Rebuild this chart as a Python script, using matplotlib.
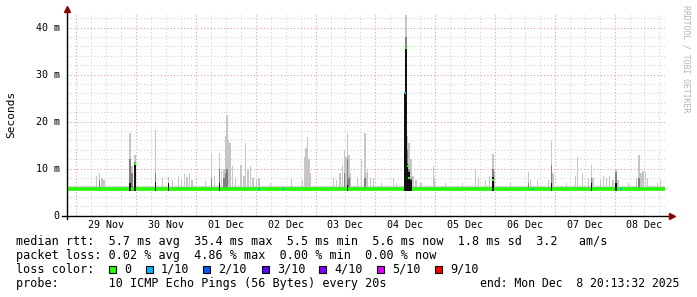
#!/usr/bin/env python3
"""
SmokePing style latency graph (10 days), RRDtool look
X-axis: days since 29 Nov 00:00
Y-axis: round trip time in ms
"""

import matplotlib
matplotlib.use('Agg')
import matplotlib.pyplot as plt
from matplotlib.patches import Rectangle
from matplotlib.ticker import MultipleLocator, FixedLocator

# Time window (days relative to 29 Nov 00:00)
X_START = -0.157
X_END = 9.843

day_ticks = [0.5, 1.5, 2.5, 3.5, 4.5, 5.5, 6.5, 7.5, 8.5, 9.5]
day_labels = ['29 Nov', '30 Nov', '01 Dec', '02 Dec', '03 Dec',
              '04 Dec', '05 Dec', '06 Dec', '07 Dec', '08 Dec']

y_ticks = [0, 10, 20, 30, 40]
y_labels = ['0', '10 m', '20 m', '30 m', '40 m']

# Smoke spikes: time (days), light smoke top, dark smoke top, black top (ms)
spike_day = [0.339, 0.390, 0.431, 0.465, 0.896, 0.933, 0.980, 1.326, 1.443, 1.543,
             1.610, 1.711, 1.761, 1.811, 1.853, 1.895, 1.936, 2.162, 2.257, 2.313,
             2.396, 2.430, 2.468, 2.497, 2.518, 2.543, 2.565, 2.609, 2.664, 2.752,
             2.801, 2.831, 2.870, 2.915, 2.950, 3.015, 3.057, 3.249, 3.600, 3.784,
             3.813, 3.838, 3.863, 3.888, 3.913, 4.303, 4.353, 4.411, 4.448, 4.487,
             4.512, 4.533, 4.559, 4.587, 4.704, 4.766, 4.823, 4.851, 4.866, 4.921,
             4.972, 5.105, 5.306, 5.356, 5.490, 5.515, 5.540, 5.565, 5.595, 5.629,
             5.679, 5.763, 5.970, 5.992, 6.176, 6.460, 6.677, 6.727, 6.844, 6.910,
             6.967, 6.995, 7.263, 7.559, 7.597, 7.709, 7.898, 7.943, 7.973, 8.199,
             8.349, 8.378, 8.462, 8.567, 8.612, 8.642, 8.767, 8.818, 8.868, 8.918,
             8.969, 9.019, 9.054, 9.236, 9.370, 9.408, 9.445, 9.475, 9.519, 9.548,
             9.720, 9.766, 9.866]
spike_light = [8.5, 9.0, 8.0, 7.5, 17.7, 10.5, 12.9, 18.2, 8.0, 8.2,
               7.5, 8.5, 7.8, 8.8, 8.2, 9.0, 7.5, 7.3, 13.1, 8.5,
               13.3, 9.5, 10.0, 17.0, 21.4, 16.0, 15.5, 10.5, 8.0, 10.8,
               8.5, 15.4, 10.0, 10.5, 8.0, 7.5, 8.0, 7.0, 8.0, 7.5,
               12.5, 14.4, 16.8, 12.0, 9.0, 8.0, 7.5, 9.0, 10.8, 14.0,
               12.5, 17.5, 13.0, 9.0, 8.0, 12.0, 17.5, 9.0, 10.0, 8.0,
               8.0, 7.0, 8.0, 7.0, 26.0, 42.7, 17.0, 15.5, 12.0, 8.5,
               7.5, 7.0, 10.6, 8.0, 7.0, 7.0, 10.0, 8.0, 7.5, 8.5,
               13.1, 9.5, 7.0, 9.4, 7.5, 7.5, 7.5, 16.1, 9.0, 7.0,
               8.5, 12.5, 9.0, 8.0, 10.8, 8.0, 7.5, 8.5, 8.0, 8.5,
               7.5, 10.0, 7.5, 7.0, 8.0, 12.9, 9.0, 9.5, 9.3, 8.0,
               7.0, 7.5, 10.0]
spike_dark = [0, 7.5, 0, 0, 12.0, 9.0, 11.5, 9.0, 0, 0,
              0, 0, 0, 0, 0, 0, 0, 0, 8.0, 0,
              10.0, 0, 8.0, 9.0, 10.0, 0, 0, 0, 0, 0,
              0, 0, 0, 0, 0, 0, 0, 0, 0, 0,
              0, 0, 0, 0, 0, 0, 0, 0, 0, 9.0,
              0, 12.0, 8.0, 0, 0, 0, 8.0, 0, 0, 0,
              0, 0, 0, 0, 26.0, 38.0, 14.0, 10.0, 8.0, 0,
              0, 0, 0, 0, 0, 0, 0, 0, 0, 0,
              10.0, 0, 0, 7.0, 0, 0, 0, 10.8, 0, 0,
              0, 0, 0, 0, 8.0, 0, 0, 0, 0, 0,
              0, 9.4, 0, 0, 0, 8.0, 0, 0, 0, 0,
              0, 0, 0]
spike_black = [0, 0, 0, 0, 7.0, 0, 11.2, 7.2, 0, 7.0,
               0, 0, 0, 0, 0, 0, 0, 0, 0, 0,
               7.0, 0, 0, 0, 0, 0, 0, 0, 0, 0,
               0, 0, 0, 0, 0, 0, 0, 0, 0, 0,
               0, 0, 0, 0, 0, 0, 0, 0, 0, 0,
               0, 6.5, 0, 0, 0, 0, 0, 0, 0, 0,
               0, 0, 0, 0, 26.0, 35.6, 11.0, 9.4, 7.5, 0,
               0, 0, 0, 0, 0, 0, 0, 0, 0, 0,
               8.3, 0, 0, 0, 0, 0, 0, 7.0, 0, 0,
               0, 0, 0, 0, 7.0, 0, 0, 0, 0, 0,
               0, 7.0, 0, 0, 0, 0, 0, 0, 0, 0,
               0, 0, 0]

# Background smoke band and median line (ms)
smoke_floor = 5.2
smoke_top = 6.4
median_seg_start = [X_START, 5.600]
median_seg_end = [5.500, X_END]
median_seg_ms = [5.6, 5.6]

# Median points off the base line (green) and 1/10 loss points (blue)
median_pt_day = [0.980, 5.515, 5.540, 5.565, 6.967]
median_pt_ms = [11.0, 35.6, 10.5, 8.0, 7.5]
loss1_day = [3.050, 3.463, 5.490, 7.634, 9.100]
loss1_ms = [5.6, 5.6, 26.0, 5.6, 5.6]

# Legend
loss_labels = ['0', '1/10', '2/10', '3/10', '4/10', '5/10', '9/10']
loss_colors = ['#26ff00', '#00b8ff', '#0059ff', '#5e00ff', '#7e00ff', '#dd00ff', '#ff0000']

MONO = 'DejaVu Sans Mono'
W, H = 697, 297


def fx(px):
    return px / W


def fy(py):
    return 1 - py / H


fig = plt.figure(figsize=(W / 100, H / 100), dpi=100)
fig.patch.set_facecolor('white')

ax_left, ax_right, ax_top, ax_bottom = 67, 665, 13.3, 215.7
ax = fig.add_axes([fx(ax_left), fy(ax_bottom), (ax_right - ax_left) / W, (ax_bottom - ax_top) / H])
ax.set_facecolor('white')
ax.set_xlim(X_START, X_END)
ax.set_ylim(0, 43.06)

# Grid (minor grey, major reddish, both dotted)
ax.xaxis.set_major_locator(FixedLocator(list(range(0, 10))))
ax.xaxis.set_minor_locator(MultipleLocator(0.25))
ax.yaxis.set_major_locator(MultipleLocator(10))
ax.yaxis.set_minor_locator(MultipleLocator(2))
ax.grid(True, which='minor', color='#d4d4d4', linestyle=(0, (1, 2)), linewidth=0.8)
ax.grid(True, which='major', color='#e0a0a0', linestyle=(0, (1, 2)), linewidth=0.8)
ax.set_axisbelow(True)
ax.tick_params(which='both', length=0, labelbottom=False, labelleft=False)
for s in ax.spines.values():
    s.set_visible(False)

# Smoke base band
ax.fill_between([X_START, X_END], smoke_floor, smoke_top, color='#d2d2d2', linewidth=0, zorder=2)

# Median line
ax.hlines(median_seg_ms, median_seg_start, median_seg_end, color='#26ff00', linewidth=2.6, zorder=3)

# Smoke spikes
bw = 0.026
for d, lt, dk, bk in zip(spike_day, spike_light, spike_dark, spike_black):
    ax.bar(d, lt - smoke_floor, bottom=smoke_floor, width=bw, color='#c6c6c6', linewidth=0, zorder=2.5)
    if dk:
        ax.bar(d, dk - smoke_floor, bottom=smoke_floor, width=bw, color='#808080', linewidth=0, zorder=2.6)
    if bk:
        ax.bar(d, bk - smoke_floor, bottom=smoke_floor, width=bw, color='#111111', linewidth=0, zorder=4)

ax.scatter(median_pt_day, median_pt_ms, marker='s', s=3, color='#26ff00', linewidths=0, zorder=5)
ax.scatter(loss1_day, loss1_ms, marker='s', s=4, color='#00b8ff', linewidths=0, zorder=5)

# Axes lines with arrows
ax.plot([0, 0], [-0.015, 1.015], transform=ax.transAxes, color='black', linewidth=1, clip_on=False, zorder=6)
ax.plot([-0.008, 1.006], [0, 0], transform=ax.transAxes, color='black', linewidth=1, clip_on=False, zorder=6)
ax.plot([0], [1.022], transform=ax.transAxes, marker='^', markersize=4, color='#8b0000', clip_on=False, zorder=6)
ax.plot([1.011], [0], transform=ax.transAxes, marker='>', markersize=4, color='#8b0000', clip_on=False, zorder=6)

# Tick labels as text on the data scale
for t, lab in zip(day_ticks, day_labels):
    ax.text(t, -0.045, lab, transform=ax.get_xaxis_transform(), ha='center', va='center',
            fontsize=7.2, family=MONO, color='black')
for v, lab in zip(y_ticks, y_labels):
    ax.text(-0.012, v, lab, transform=ax.get_yaxis_transform(), ha='right', va='center',
            fontsize=7.2, family=MONO, color='black')

fig.text(fx(11), fy(114), 'Seconds', rotation=90, ha='center', va='center',
         fontsize=8, family=MONO, color='black')
fig.text(fx(686), fy(5), 'RRDTOOL / TOBI OETIKER', rotation=270, ha='center', va='top',
         fontsize=5.9, family=MONO, color='#b4b4b4')

# Legend / stats block
rows = [
    (241.7, 'median rtt:  5.7 ms avg  35.4 ms max  5.5 ms min  5.6 ms now  1.8 ms sd  3.2   am/s'),
    (255.0, 'packet loss: 0.02 % avg  4.86 % max  0.00 % min  0.00 % now'),
    (269.3, 'loss color:'),
    (283.3, 'probe:       10 ICMP Echo Pings (56 Bytes) every 20s'),
]
for y, txt in rows:
    fig.text(fx(16), fy(y), txt, ha='left', va='center', fontsize=8.5, family=MONO, color='black')

box_x = [109, 146, 203.3, 261.7, 319.3, 377.3, 435]
for bx, lab, col in zip(box_x, loss_labels, loss_colors):
    fig.patches.append(Rectangle((fx(bx), fy(273.3)), 7 / W, 7 / H, transform=fig.transFigure,
                                 facecolor=col, edgecolor='black', linewidth=0.8))
    fig.text(fx(bx + 15), fy(269.3), lab, ha='left', va='center', fontsize=8.5, family=MONO, color='black')

fig.text(fx(679.5), fy(283.3), 'end: Mon Dec  8 20:13:32 2025', ha='right', va='center',
         fontsize=8.3, family=MONO, color='black')

fig.savefig('out.png', dpi=100, facecolor='white')
